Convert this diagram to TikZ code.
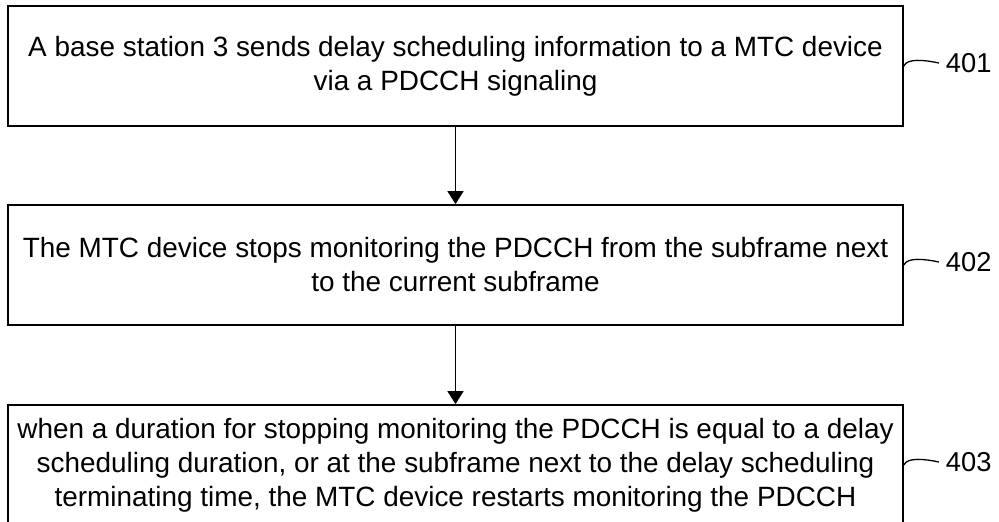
\documentclass[tikz,border=0pt]{standalone}
\usepackage{fontspec}
\setmainfont{Liberation Sans}
\usetikzlibrary{arrows.meta}
\begin{document}
\begin{tikzpicture}[x=1pt,y=1pt,
	stepbox/.style={draw,line width=1.8pt,minimum width=895pt,minimum height=120pt,
		inner sep=0pt,align=center,font=\fontsize{27.9}{34}\selectfont},
	flow/.style={line width=1.4pt,-{Triangle[width=16pt,length=13pt]}},
	tag/.style={font=\fontsize{27.3}{34}\selectfont}]
			\def\w{999}  % picture width
			\def\h{522}  % picture height
			\def\cx{455.5}  % boxes' middle
			\clip (0,0) rectangle (\w,-\h);
			\node[stepbox] (s401) at (\cx,-66)
			{A base station 3 sends delay scheduling information to a MTC device\\
				via a PDCCH signaling};
			\node[stepbox] (s402) at (\cx,-265)
			{The MTC device stops monitoring the PDCCH from the subframe next\\
				to the current subframe};
			\node[stepbox] (s403) at (\cx,-465)
			{when a duration for stopping monitoring the PDCCH is equal to a delay\\
				scheduling duration, or at the subframe next to the delay scheduling\\
				terminating time, the MTC device restarts monitoring the PDCCH};
			\foreach \i[count=\j from 402] in {401,402}
			\draw[flow] (s\i)--(s\j);
			\foreach \i in {401,402,403}
			\draw[line width=1.3pt]
			([yshift=0pt]s\i.east) .. controls +(3,8) and +(-14,3) .. ++(35,3)
			node[tag,right=3pt]{\i};
		\end{tikzpicture}
\end{document}
